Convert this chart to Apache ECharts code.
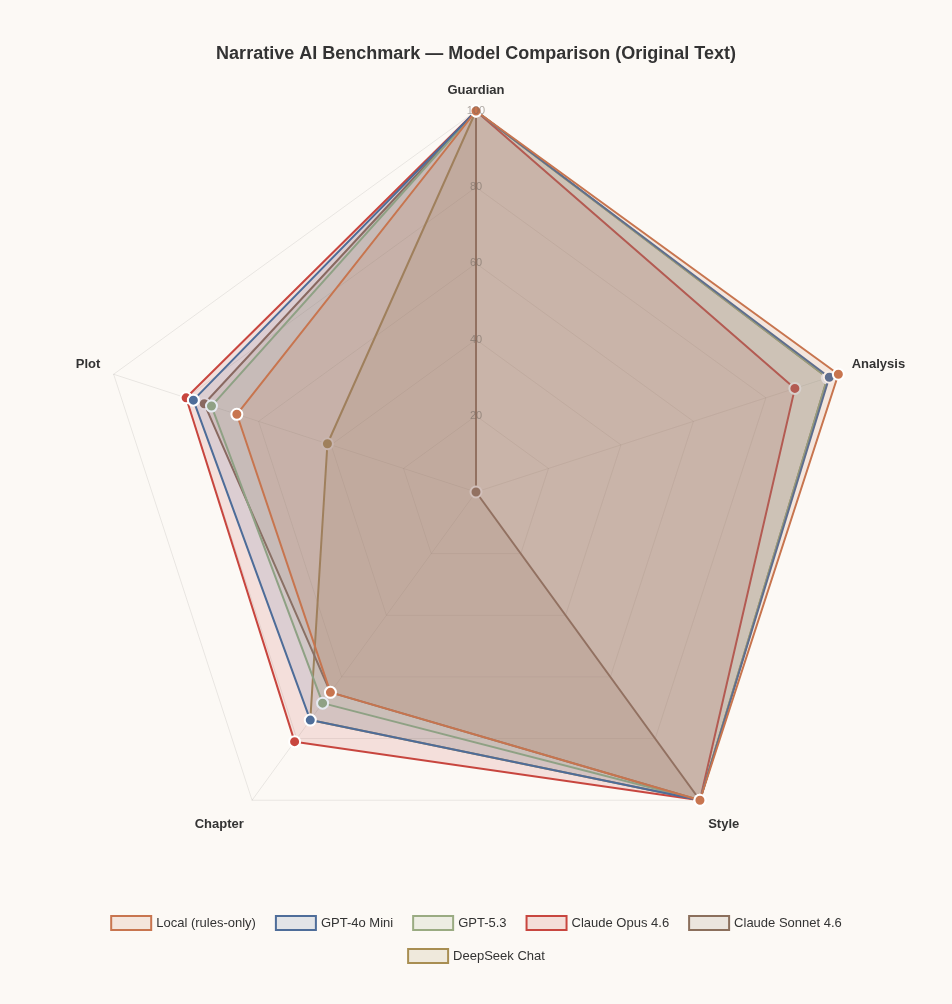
<!DOCTYPE html>
<html>
<head>
<meta charset="utf-8">
<script src="https://cdn.jsdelivr.net/npm/echarts@6/dist/echarts.min.js"></script>
<style>
  html, body { margin: 0; padding: 0; background: #fcf9f5; }
  #chart { width: 952px; height: 1004px; }
</style>
</head>
<body>
<div id="chart"></div>
<script>
// Axes of the radar, clockwise from the top
const axes = ['Guardian', 'Analysis', 'Style', 'Chapter', 'Plot'];
const tickValues = [20, 40, 60, 80, 100];

// Scores per model, same order as axes
const localScores    = [100, 100, 100, 65, 66];
const gpt4oMini      = [100, 97.5, 100, 74, 78];
const gpt53          = [100, 97, 100, 68.5, 73];
const claudeOpus     = [100, 88, 100, 81, 80];
const claudeSonnet   = [100, 0, 100, 65, 75];
const deepseekChat   = [100, 97, 100, 74, 41];

const models = [
  { name: 'Local (rules-only)', color: '#c8754f', data: localScores },
  { name: 'GPT-4o Mini',        color: '#4e6d99', data: gpt4oMini },
  { name: 'GPT-5.3',            color: '#9aab82', data: gpt53 },
  { name: 'Claude Opus 4.6',    color: '#c8463f', data: claudeOpus },
  { name: 'Claude Sonnet 4.6',  color: '#8b6f5c', data: claudeSonnet },
  { name: 'DeepSeek Chat',      color: '#a88e52', data: deepseekChat }
];

// echarts lays radar axes out counter-clockwise, so flip everything after the first
const order = [0, ...axes.slice(1).map((_, i) => axes.length - 1 - i)];
const reorder = arr => order.map(i => arr[i]);

function hexToRgba(hex, a) {
  const n = parseInt(hex.slice(1), 16);
  return `rgba(${(n >> 16) & 255},${(n >> 8) & 255},${n & 255},${a})`;
}

const chart = echarts.init(document.getElementById('chart'));
const FONT = '"Liberation Sans", Arial, sans-serif';
const CENTER = ['50%', 492];
const RADIUS = 381;

const legendItem = m => ({
  name: m.name,
  itemStyle: { color: hexToRgba(m.color, 0.15), borderColor: m.color, borderWidth: 2 }
});
const legendBase = {
  left: 'center',
  itemWidth: 40,
  itemHeight: 14,
  itemGap: 19,
  icon: 'rect',
  textStyle: { fontSize: 13, color: '#333', fontFamily: FONT }
};

chart.setOption({
  backgroundColor: '#fcf9f5',
  textStyle: { fontFamily: FONT },
  title: {
    text: 'Narrative AI Benchmark — Model Comparison (Original Text)',
    left: 'center',
    top: 40,
    textStyle: { fontSize: 18, fontWeight: 'bold', color: '#333', fontFamily: FONT }
  },
  legend: [
    Object.assign({}, legendBase, { top: 910, data: models.slice(0, 5).map(legendItem) }),
    Object.assign({}, legendBase, { top: 943, data: models.slice(5).map(legendItem) })
  ],
  radar: {
    center: CENTER,
    radius: RADIUS,
    startAngle: 90,
    shape: 'polygon',
    splitNumber: 5,
    indicator: reorder(axes).map(a => ({ name: a, min: 0, max: 100 })),
    axisName: {
      color: '#333', fontSize: 13, fontWeight: 'bold', fontFamily: FONT,
      formatter: name => {
        if (name === 'Chapter' || name === 'Style') return '{low|' + name + '}';
        if (name === 'Plot' || name === 'Analysis') return '{side|' + name + '}';
        return name;
      },
      rich: {
        low: { fontSize: 13, fontWeight: 'bold', color: '#333', fontFamily: FONT, padding: [25, 0, 0, 0] },
        side: { fontSize: 13, fontWeight: 'bold', color: '#333', fontFamily: FONT, padding: [0, 0, 12, 0] }
      }
    },
    nameGap: 14,
    splitArea: { show: false },
    splitLine: { lineStyle: { color: 'rgba(0,0,0,0.08)', width: 1 } },
    axisLine: { lineStyle: { color: 'rgba(0,0,0,0.08)', width: 1 } },
    axisLabel: { show: false }
  },
  polar: { center: CENTER, radius: RADIUS },
  angleAxis: { show: false, startAngle: 90 },
  radiusAxis: {
    min: 0, max: 100, interval: 20, z: 30,
    axisLine: { show: false }, axisTick: { show: false }, splitLine: { show: false },
    axisLabel: {
      showMinLabel: false, margin: 0, align: 'center', verticalAlign: 'middle',
      color: 'rgba(110,100,92,0.55)', fontSize: 11, fontFamily: FONT,
      formatter: v => (tickValues.includes(v) ? String(v) : '')
    }
  },
  // first model sits on top, like the original
  series: models.map((m, i) => ({
    name: m.name,
    type: 'radar',
    z: 20 - i,
    symbol: 'circle',
    symbolSize: 11,
    lineStyle: { color: m.color, width: 2 },
    itemStyle: { color: m.color, borderColor: '#fff', borderWidth: 2 },
    areaStyle: { color: hexToRgba(m.color, 0.2) },
    data: [{ value: reorder(m.data), name: m.name }]
  }))
});
</script>
</body>
</html>
